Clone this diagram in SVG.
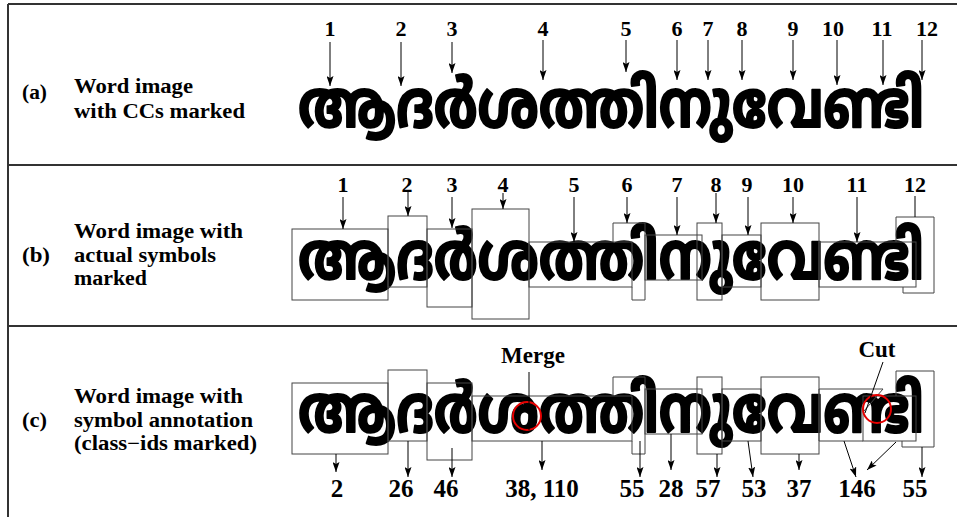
<svg xmlns="http://www.w3.org/2000/svg" width="957" height="517" viewBox="0 0 957 517">
  <style>
    .lbl { font-family: "Liberation Serif", "Times New Roman", serif; font-weight: bold; font-size: 20px; fill: #000; }
    .num { font-family: "Liberation Serif", "Times New Roman", serif; font-weight: bold; font-size: 22px; fill: #000; text-anchor: middle; }
    .cls { font-family: "Liberation Serif", "Times New Roman", serif; font-weight: bold; font-size: 25px; fill: #000; text-anchor: middle; }
    .word { font-family: "Noto Sans Malayalam", "Noto Serif Malayalam", "Manjari", "Rachana", "Meera", "Lohit Malayalam", sans-serif; font-weight: bold; font-size: 54px; fill: #000; stroke: #000; stroke-width: 1.6; stroke-linejoin: round; }
    .frame { stroke: #333; stroke-width: 2; fill: none; }
    .box { stroke: #444; stroke-width: 1; fill: none; }
    .arr { stroke: #000; stroke-width: 1; fill: none; marker-end: url(#head); }
    .ptr { stroke: #000; stroke-width: 1; fill: none; }
    .mark { stroke: #e60000; stroke-width: 2; fill: none; }
  </style>
  <defs>
    <marker id="head" markerUnits="userSpaceOnUse" markerWidth="10" markerHeight="7" refX="10" refY="3.5" orient="auto">
      <path d="M0,0 L10,3.5 L0,7 L2,3.5 z" fill="#000"/>
    </marker>
  </defs>
  <rect width="957" height="517" fill="#fff"/>

  <!-- panel frame -->
  <g id="frame" class="frame">
    <line x1="8" y1="4" x2="957" y2="4"/>
    <line x1="8" y1="4" x2="8" y2="517"/>
    <line x1="8" y1="165" x2="957" y2="165"/>
    <line x1="8" y1="326" x2="957" y2="326"/>
  </g>

  <!-- panel (a): connected components -->
  <g id="label-a">
    <text class="lbl" x="22" y="99" textLength="25" lengthAdjust="spacingAndGlyphs">(a)</text>
    <text class="lbl" x="74" y="93" textLength="119" lengthAdjust="spacingAndGlyphs">Word image</text>
    <text class="lbl" x="74" y="118" textLength="171" lengthAdjust="spacingAndGlyphs">with CCs marked</text>
  </g>
  <g id="word-a" transform="translate(298,127) scale(1,1.22)">
    <text class="word" x="0" y="0" textLength="626" lengthAdjust="spacingAndGlyphs">ആദർശത്തിനുവേണ്ടി</text>
  </g>
  <g id="cc-numbers-a" class="num">
    <text x="330" y="36">1</text>
    <text x="401" y="36">2</text>
    <text x="452" y="36">3</text>
    <text x="543" y="36">4</text>
    <text x="626" y="36">5</text>
    <text x="677" y="36">6</text>
    <text x="708" y="36">7</text>
    <text x="742" y="36">8</text>
    <text x="793" y="36">9</text>
    <text x="833" y="36">10</text>
    <text x="882" y="36">11</text>
    <text x="927" y="36">12</text>
  </g>

  <!-- panel (b): symbol boxes -->
  <g id="label-b">
    <text class="lbl" x="22" y="262" textLength="28" lengthAdjust="spacingAndGlyphs">(b)</text>
    <text class="lbl" x="74" y="238" textLength="169" lengthAdjust="spacingAndGlyphs">Word image with</text>
    <text class="lbl" x="74" y="262" textLength="142" lengthAdjust="spacingAndGlyphs">actual symbols</text>
    <text class="lbl" x="74" y="285" textLength="73" lengthAdjust="spacingAndGlyphs">marked</text>
  </g>
  <g id="word-b" transform="translate(298,279) scale(1,1.22)">
    <text class="word" x="0" y="0" textLength="626" lengthAdjust="spacingAndGlyphs">ആദർശത്തിനുവേണ്ടി</text>
  </g>
  <g id="boxes-b" class="box">
    <rect id="b1" x="292" y="229" width="96" height="71"/>
    <rect id="b2" x="388" y="216" width="39" height="71"/>
    <rect id="b3" x="427" y="229" width="45" height="78"/>
    <rect id="b4" x="472" y="209" width="57" height="110"/>
    <rect id="b5" x="529" y="242" width="103" height="45"/>
    <path id="b6" d="M613,242 V223 H645 V300 H632 V287"/>
    <rect id="b7" x="645" y="235" width="57" height="45"/>
    <rect id="b8" x="697" y="223" width="25" height="77"/>
    <rect id="b9" x="722" y="235" width="39" height="52"/>
    <rect id="b10" x="761" y="223" width="58" height="77"/>
    <rect id="b11" x="819" y="242" width="97" height="45"/>
    <path id="b12" d="M896,242 V217 H934 V293 H903 V287"/>
  </g>
  <g id="symbol-numbers-b" class="num">
    <text x="343" y="192">1</text>
    <text x="407" y="192">2</text>
    <text x="452" y="192">3</text>
    <text x="503" y="192">4</text>
    <text x="574" y="192">5</text>
    <text x="627" y="192">6</text>
    <text x="677" y="192">7</text>
    <text x="716" y="192">8</text>
    <text x="747" y="192">9</text>
    <text x="793" y="192">10</text>
    <text x="857" y="192">11</text>
    <text x="915" y="192">12</text>
  </g>

  <!-- panel (c): class-id annotation -->
  <g id="label-c">
    <text class="lbl" x="22" y="427" textLength="25" lengthAdjust="spacingAndGlyphs">(c)</text>
    <text class="lbl" x="74" y="403" textLength="169" lengthAdjust="spacingAndGlyphs">Word image with</text>
    <text class="lbl" x="74" y="427" textLength="179" lengthAdjust="spacingAndGlyphs">symbol annotation</text>
    <text class="lbl" x="74" y="450" textLength="183" lengthAdjust="spacingAndGlyphs">(class−ids marked)</text>
  </g>
  <g id="word-c" transform="translate(298,432) scale(1,1.22)">
    <text class="word" x="0" y="0" textLength="626" lengthAdjust="spacingAndGlyphs">ആദർശത്തിനുവേണ്ടി</text>
  </g>
  <g id="boxes-c" class="box">
    <rect id="c1" x="292" y="383" width="96" height="71"/>
    <rect id="c2" x="388" y="370" width="39" height="71"/>
    <rect id="c3" x="427" y="383" width="45" height="77"/>
    <rect id="c4" x="472" y="396" width="160" height="45"/>
    <path id="c5" d="M613,396 V377 H645 V454 H632 V441"/>
    <rect id="c6" x="645" y="389" width="57" height="45"/>
    <rect id="c7" x="697" y="377" width="25" height="77"/>
    <rect id="c8" x="722" y="389" width="39" height="52"/>
    <rect id="c9" x="761" y="377" width="58" height="77"/>
    <path id="c10" d="M863,441 H819 V389 H883 L864,411"/>
    <rect id="c11" x="863" y="396" width="53" height="45"/>
    <path id="c12" d="M896,396 V371 H934 V447 H902 V441"/>
  </g>
  <g id="merge-note">
    <text class="cls" x="533" y="363" style="font-size:23px">Merge</text>
    <circle class="mark" cx="527" cy="416" r="14"/>
  </g>
  <g id="cut-note">
    <text class="cls" x="877" y="357" style="font-size:23px">Cut</text>
    <circle class="mark" cx="877" cy="409" r="14"/>
  </g>
  <g id="class-ids-c" class="cls">
    <text x="337" y="497">2</text>
    <text x="401" y="497">26</text>
    <text x="446" y="497">46</text>
    <text x="542" y="497">38, 110</text>
    <text x="632" y="497">55</text>
    <text x="671" y="497">28</text>
    <text x="708" y="497">57</text>
    <text x="754" y="497">53</text>
    <text x="799" y="497">37</text>
    <text x="857" y="497">146</text>
    <text x="915" y="497">55</text>
  </g>

  <!-- connectors -->
  <g id="connectors">
    <g id="arrows-a" class="arr">
      <line x1="330" y1="42" x2="330" y2="86"/>
      <line x1="401" y1="42" x2="401" y2="86"/>
      <line x1="452" y1="42" x2="452" y2="73"/>
      <line x1="543" y1="40" x2="543" y2="80"/>
      <line x1="626" y1="40" x2="626" y2="72"/>
      <line x1="677" y1="40" x2="677" y2="80"/>
      <line x1="708" y1="40" x2="708" y2="80"/>
      <line x1="742" y1="40" x2="742" y2="80"/>
      <line x1="793" y1="40" x2="793" y2="80"/>
      <line x1="837" y1="40" x2="837" y2="85"/>
      <line x1="883" y1="40" x2="883" y2="85"/>
      <line x1="922" y1="40" x2="922" y2="80"/>
    </g>
    <g id="arrows-b" class="arr">
      <line x1="343" y1="197" x2="343" y2="229"/>
      <line x1="408" y1="191" x2="408" y2="216"/>
      <line x1="452" y1="197" x2="452" y2="228"/>
      <line x1="503" y1="193" x2="503" y2="209"/>
      <line x1="574" y1="197" x2="574" y2="242"/>
      <line x1="627" y1="197" x2="627" y2="223"/>
      <line x1="677" y1="197" x2="677" y2="235"/>
      <line x1="716" y1="193" x2="716" y2="223"/>
      <line x1="748" y1="197" x2="748" y2="235"/>
      <line x1="793" y1="197" x2="793" y2="223"/>
      <line x1="857" y1="197" x2="857" y2="242"/>
    </g>
    <line id="lead-b12" class="ptr" x1="915" y1="196" x2="915" y2="217"/>
    <line id="merge-pointer" class="ptr" x1="529" y1="372" x2="529" y2="430"/>
    <line id="cut-pointer" class="ptr" x1="883" y1="362" x2="865" y2="413"/>
    <g id="arrows-c" class="arr">
      <line x1="336" y1="454" x2="336" y2="472"/>
      <line x1="408" y1="441" x2="408" y2="477"/>
      <line x1="452" y1="448" x2="452" y2="477"/>
      <line x1="542" y1="441" x2="542" y2="470"/>
      <line x1="640" y1="441" x2="640" y2="477"/>
      <line x1="671" y1="434" x2="671" y2="470"/>
      <line x1="717" y1="454" x2="717" y2="477"/>
      <line x1="748" y1="441" x2="753" y2="477"/>
      <line x1="799" y1="454" x2="799" y2="470"/>
      <line x1="844" y1="441" x2="856" y2="477"/>
      <line x1="896" y1="442" x2="867" y2="470"/>
      <line x1="922" y1="447" x2="922" y2="477"/>
    </g>
  </g>
</svg>
